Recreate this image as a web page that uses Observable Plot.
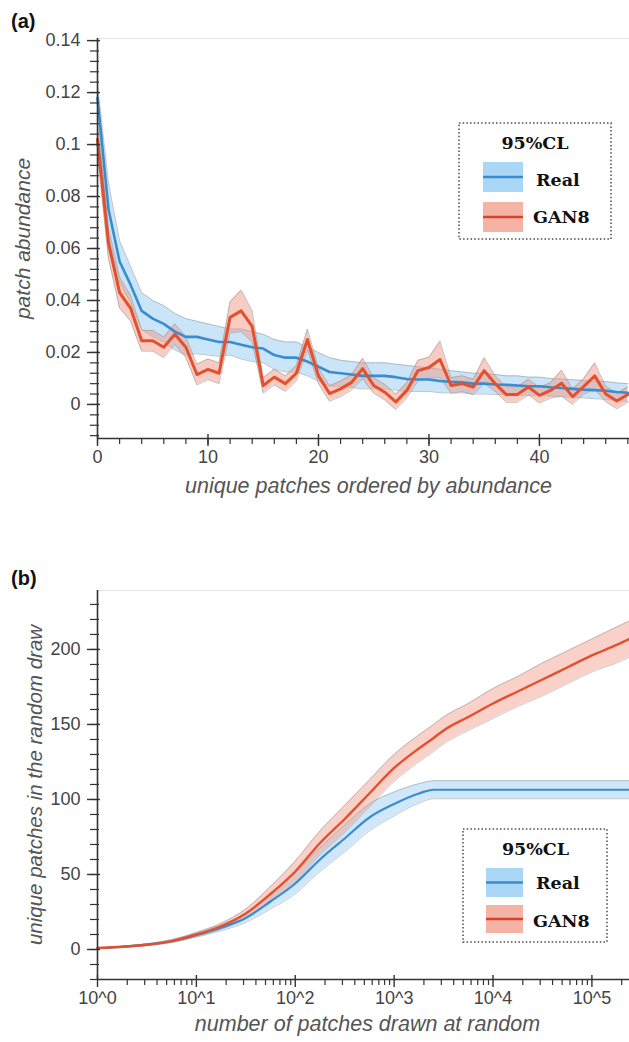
<!DOCTYPE html>
<html>
<head>
<meta charset="utf-8">
<script src="https://cdn.jsdelivr.net/npm/d3@7"></script>
<script src="https://cdn.jsdelivr.net/npm/@observablehq/plot@0.6"></script>
<style>
  body { margin: 0; background: #fff; }
  #page { position: relative; width: 629px; height: 1042px; overflow: hidden; font-family: "Liberation Sans", Arial, sans-serif; }
  .panel { position: absolute; left: 0; }
  .tag { position: absolute; font-weight: bold; font-size: 20px; line-height: 24px; color: #111; font-family: "Liberation Sans", Arial, sans-serif; }
  .legend { position: absolute; }
  .legend text { font-family: "DejaVu Serif", "Liberation Serif", serif; font-weight: bold; font-size: 17.5px; fill: #111; }
</style>
</head>
<body>
<div id="page">
  <div class="tag" style="left:11px;top:9px;">(a)</div>
  <div class="tag" style="left:11px;top:566px;">(b)</div>
  <div id="panelA" class="panel" style="top:0px;"></div>
  <div id="panelB" class="panel" style="top:520px;"></div>
  <svg class="legend" style="left:458px;top:122px;" width="154" height="118">
    <rect x="1" y="1" width="152" height="116" fill="#fff" stroke="#777" stroke-width="2" stroke-dasharray="1.5,2.2"></rect>
    <text x="77" y="27" text-anchor="middle" id="legA0"></text>
    <rect x="25" y="40" width="40" height="30" fill="#aad7f6"></rect>
    <line x1="25" x2="65" y1="55" y2="55" stroke="#3a8ccf" stroke-width="2.5"></line>
    <text x="78" y="64" id="legA1"></text>
    <rect x="25" y="80" width="40" height="30" fill="#f5b3a5"></rect>
    <line x1="25" x2="65" y1="95" y2="95" stroke="#d9432c" stroke-width="2.5"></line>
    <text x="75" y="101" id="legA2"></text>
  </svg>
  <svg class="legend" style="left:462px;top:828px;" width="146" height="115">
    <rect x="1" y="1" width="144" height="113" fill="#fff" stroke="#777" stroke-width="2" stroke-dasharray="1.5,2.2"></rect>
    <text x="73.5" y="27" text-anchor="middle" id="legB0"></text>
    <rect x="24" y="40" width="37" height="29" fill="#aad7f6"></rect>
    <line x1="24" x2="61" y1="54.5" y2="54.5" stroke="#3a8ccf" stroke-width="2.5"></line>
    <text x="74" y="61" id="legB1"></text>
    <rect x="24" y="77" width="37" height="28" fill="#f5b3a5"></rect>
    <line x1="24" x2="61" y1="91" y2="91" stroke="#d9432c" stroke-width="2.5"></line>
    <text x="71" y="99" id="legB2"></text>
  </svg>
</div>
<script>
// ---------- Legend texts ----------
const legendTitle = "95%CL";
const seriesNames = ["Real", "GAN8"];

// ---------- Panel (a) data: patch abundance vs rank ----------
const realMeanA = [0.118,0.075,0.055,0.046,0.036,0.033,0.031,0.028,0.026,0.026,0.025,0.024,0.024,0.023,0.022,0.0215,0.019,0.018,0.018,0.0165,0.0145,0.0125,0.012,0.0115,0.011,0.011,0.011,0.0105,0.0098,0.0096,0.0096,0.009,0.0087,0.0085,0.008,0.008,0.0077,0.0076,0.0073,0.007,0.007,0.0066,0.0063,0.006,0.0057,0.0055,0.0053,0.0048,0.0045];
const realHiA = [0.123,0.085,0.063,0.053,0.043,0.04,0.038,0.035,0.033,0.032,0.031,0.03,0.029,0.029,0.028,0.027,0.025,0.024,0.024,0.022,0.02,0.018,0.017,0.0165,0.016,0.016,0.016,0.0155,0.015,0.0145,0.014,0.0135,0.013,0.0125,0.012,0.012,0.0115,0.011,0.011,0.0105,0.0105,0.01,0.0098,0.0095,0.0092,0.009,0.0088,0.0083,0.008];
const realLoA = [0.113,0.065,0.047,0.039,0.029,0.026,0.024,0.021,0.019,0.0195,0.019,0.0185,0.019,0.0175,0.0165,0.016,0.0135,0.0125,0.0125,0.011,0.009,0.007,0.007,0.0065,0.006,0.006,0.006,0.0055,0.005,0.005,0.005,0.0045,0.0044,0.0045,0.004,0.004,0.0038,0.0038,0.0035,0.0035,0.0035,0.0032,0.003,0.0028,0.0025,0.0022,0.002,0.0015,0.0012];
const ganMeanA = [0.102,0.062,0.043,0.037,0.0245,0.0245,0.022,0.027,0.022,0.0115,0.0135,0.012,0.0335,0.036,0.030,0.0073,0.0105,0.008,0.012,0.025,0.011,0.0042,0.006,0.0085,0.0138,0.0073,0.0047,0.001,0.0054,0.013,0.0142,0.0173,0.0073,0.008,0.0067,0.013,0.008,0.0038,0.0038,0.0067,0.0035,0.0054,0.0082,0.003,0.0069,0.011,0.004,0.0013,0.0038];
const ganLoA = [0.096,0.056,0.037,0.032,0.0205,0.0205,0.018,0.023,0.018,0.0075,0.0095,0.008,0.0275,0.028,0.024,0.0043,0.0075,0.005,0.009,0.021,0.008,0.0012,0.003,0.0055,0.0098,0.0043,0.0017,-0.002,0.0024,0.009,0.0102,0.0103,0.0043,0.005,0.0037,0.008,0.005,0.0008,0.0008,0.0037,0.0005,0.0024,0.0032,0.0,0.0039,0.006,0.001,-0.0017,0.0008];
const ganHiA = [0.108,0.068,0.049,0.042,0.0285,0.0285,0.026,0.031,0.026,0.0155,0.0175,0.016,0.0395,0.044,0.036,0.0103,0.0135,0.011,0.015,0.029,0.014,0.0072,0.009,0.0115,0.0178,0.0103,0.0077,0.004,0.0084,0.017,0.0182,0.0243,0.0103,0.011,0.0097,0.018,0.011,0.0068,0.0068,0.0097,0.0065,0.0084,0.0132,0.006,0.0099,0.016,0.007,0.0043,0.0068];

const xDomainA = [0, 48.15];
const yDomainA = [-0.0131, 0.1408];
const xMajorA = [0, 10, 20, 30, 40];
const xMajorLabelsA = ["0", "10", "20", "30", "40"];
const xMinorA = d3.range(0, 49, 2);
const yMajorA = [0, 0.02, 0.04, 0.06, 0.08, 0.1, 0.12, 0.14];
const yMajorLabelsA = ["0", "0.02", "0.04", "0.06", "0.08", "0.1", "0.12", "0.14"];
const yMinorA = d3.range(-12, 141, 4).map(v => v / 1000);
const xLabelA = "unique patches ordered by abundance";
const yLabelA = "patch abundance";

// ---------- Panel (b) data: unique patches vs number drawn ----------
const drawsB = [1, 1.78, 3.16, 5.62, 10, 17.8, 31.6, 56.2, 100, 178, 316, 562, 1000, 1778, 2512, 3162, 5623, 10000, 17783, 31623, 56234, 100000, 177828, 240000];
const realMeanB = [1, 1.8, 3.2, 5.5, 9.5, 14.5, 21, 32, 44, 60, 74, 88, 97, 104, 106.5, 106.5, 106.5, 106.5, 106.5, 106.5, 106.5, 106.5, 106.5, 106.5];
const realLoB = [1, 1.5, 2.6, 4.6, 8.2, 12.5, 18, 27, 37, 52, 65, 79, 89, 97.5, 100.5, 100.5, 100.5, 100.5, 100.5, 100.5, 100.5, 100.5, 100.5, 100.5];
const realHiB = [1, 2.1, 3.8, 6.4, 10.8, 16.5, 24, 37, 51, 68, 83, 97, 105, 110.5, 112.5, 112.5, 112.5, 112.5, 112.5, 112.5, 112.5, 112.5, 112.5, 112.5];
const ganMeanB = [1, 1.8, 3.2, 5.6, 10, 15.5, 24, 37, 52, 71, 87, 104, 121, 134, 141, 146, 155, 164, 172, 180, 188, 196, 203, 207];
const ganLoB = [1, 1.5, 2.6, 4.7, 8.6, 13.5, 21, 32, 45, 63, 78, 95, 112, 125, 132, 137, 146, 154, 162, 169, 177, 185, 191, 195];
const ganHiB = [1, 2.1, 3.8, 6.5, 11.4, 17.5, 27, 42, 59, 79, 96, 113, 130, 143, 150, 155, 164, 174, 182, 191, 199, 207, 215, 219];

const xDomainB = [1, 240000];
const yDomainB = [-20, 239.3];
const xMajorB = [1, 10, 100, 1000, 10000, 100000];
const xMajorLabelsB = ["10^0", "10^1", "10^2", "10^3", "10^4", "10^5"];
const xMinorB = [];
for (const p of [1, 10, 100, 1000, 10000, 100000]) for (let m = 2; m <= 9; m++) if (p * m <= 240000) xMinorB.push(p * m);
const yMajorB = [0, 50, 100, 150, 200];
const yMajorLabelsB = ["0", "50", "100", "150", "200"];
const yMinorB = d3.range(-20, 231, 10);
const xLabelB = "number of patches drawn at random";
const yLabelB = "unique patches in the random draw";

// ---------- Colours ----------
const blueLine = "#3a8ccf", redLine = "#e2502e";
const blueFill = "#9fd0f2", redFill = "#f29a85";
const edge = "#8d979e";
const tickFont = 18, titleFont = 21.5;

// ---------- Build tables ----------
const dataA = realMeanA.map((v, i) => ({
  rank: i, real: v, realLo: realLoA[i], realHi: realHiA[i],
  gan: ganMeanA[i], ganLo: ganLoA[i], ganHi: ganHiA[i]
}));
const dataB = drawsB.map((d, i) => ({
  n: d, real: realMeanB[i], realLo: realLoB[i], realHi: realHiB[i],
  gan: ganMeanB[i], ganLo: ganLoB[i], ganHi: ganHiB[i]
}));

const blank = () => "";
function lookup(ticks, labels) { const m = new Map(ticks.map((t, i) => [t, labels[i]])); return d => m.get(d); }

function axes(xDom, yDom, xMajor, xMajorLabels, xMinor, yMajor, yMajorLabels, yMinor) {
  const ax = "#333";
  return [
    Plot.ruleY([yDom[1]], {stroke: "#e4e4e4", strokeWidth: 1.2}),
    Plot.ruleX([xDom[0]], {stroke: ax, strokeWidth: 1.6}),
    Plot.ruleY([yDom[0]], {stroke: ax, strokeWidth: 1.6}),
    Plot.axisY({ticks: yMinor, tickSize: 7, tickFormat: blank, label: null, stroke: ax, strokeWidth: 1.2}),
    Plot.axisY({ticks: yMinor, tickSize: 2, dx: 2, tickFormat: blank, label: null, stroke: ax, strokeWidth: 1.2}),
    Plot.axisY({ticks: yMajor, tickSize: 10, tickFormat: blank, label: null, stroke: ax, strokeWidth: 1.4}),
    Plot.axisY({ticks: yMajor, tickSize: 3, dx: 3, tickFormat: blank, label: null, stroke: ax, strokeWidth: 1.4}),
    Plot.axisX({ticks: xMinor, tickSize: 6, tickFormat: blank, label: null, stroke: ax, strokeWidth: 1.2}),
    Plot.axisX({ticks: xMajor, tickSize: 8, tickFormat: blank, label: null, stroke: ax, strokeWidth: 1.4}),
    Plot.axisX({ticks: xMajor, tickSize: 4, dy: -4, tickFormat: blank, label: null, stroke: ax, strokeWidth: 1.4}),
    Plot.text(yMajor, {y: d => d, text: lookup(yMajor, yMajorLabels), frameAnchor: "left", textAnchor: "end", dx: -17, fontSize: tickFont, fill: "#444"}),
    Plot.text(xMajor, {x: d => d, text: lookup(xMajor, xMajorLabels), frameAnchor: "bottom", dy: 24, fontSize: tickFont, fill: "#444"})
  ];
}

const styleCommon = {fontFamily: "'Liberation Sans', Arial, sans-serif", fontSize: "18px", color: "#444", background: "transparent", overflow: "visible"};

const plotA = Plot.plot({
  width: 629, height: 515,
  marginTop: 38, marginBottom: 77, marginLeft: 97, marginRight: 0,
  style: styleCommon,
  x: {domain: xDomainA},
  y: {domain: yDomainA},
  marks: [
    Plot.areaY(dataA, {x: "rank", y1: "realLo", y2: "realHi", fill: blueFill, fillOpacity: 0.55}),
    Plot.lineY(dataA, {x: "rank", y: "realLo", stroke: edge, strokeOpacity: 0.55, strokeWidth: 1}),
    Plot.lineY(dataA, {x: "rank", y: "realHi", stroke: edge, strokeOpacity: 0.55, strokeWidth: 1}),
    Plot.areaY(dataA, {x: "rank", y1: "ganLo", y2: "ganHi", fill: redFill, fillOpacity: 0.5}),
    Plot.lineY(dataA, {x: "rank", y: "ganLo", stroke: edge, strokeOpacity: 0.55, strokeWidth: 1}),
    Plot.lineY(dataA, {x: "rank", y: "ganHi", stroke: edge, strokeOpacity: 0.55, strokeWidth: 1}),
    Plot.lineY(dataA, {x: "rank", y: "real", stroke: blueLine, strokeWidth: 2.6}),
    Plot.lineY(dataA, {x: "rank", y: "gan", stroke: redLine, strokeWidth: 3}),
    ...axes(xDomainA, yDomainA, xMajorA, xMajorLabelsA, xMinorA, yMajorA, yMajorLabelsA, yMinorA),
    Plot.text([yLabelA], {text: d => d, frameAnchor: "left", textAnchor: "middle", dx: -74, rotate: -90, fontStyle: "italic", fontSize: 21, fill: "#555"}),
    Plot.text([xLabelA], {text: d => d, frameAnchor: "bottom", dx: 5, dy: 54, fontStyle: "italic", fontSize: titleFont, fill: "#555"})
  ]
});
document.getElementById("panelA").appendChild(plotA);

const smooth = "monotone-x";
const plotB = Plot.plot({
  width: 629, height: 522,
  marginTop: 70, marginBottom: 63, marginLeft: 97, marginRight: 0,
  style: styleCommon,
  x: {type: "log", domain: xDomainB},
  y: {domain: yDomainB},
  marks: [
    Plot.areaY(dataB, {x: "n", y1: "realLo", y2: "realHi", fill: blueFill, fillOpacity: 0.5, curve: smooth}),
    Plot.lineY(dataB, {x: "n", y: "realLo", stroke: edge, strokeOpacity: 0.5, strokeWidth: 1, curve: smooth}),
    Plot.lineY(dataB, {x: "n", y: "realHi", stroke: edge, strokeOpacity: 0.5, strokeWidth: 1, curve: smooth}),
    Plot.areaY(dataB, {x: "n", y1: "ganLo", y2: "ganHi", fill: redFill, fillOpacity: 0.45, curve: smooth}),
    Plot.lineY(dataB, {x: "n", y: "ganLo", stroke: edge, strokeOpacity: 0.5, strokeWidth: 1, curve: smooth}),
    Plot.lineY(dataB, {x: "n", y: "ganHi", stroke: edge, strokeOpacity: 0.5, strokeWidth: 1, curve: smooth}),
    Plot.lineY(dataB, {x: "n", y: "real", stroke: blueLine, strokeWidth: 2.2, curve: smooth}),
    Plot.lineY(dataB, {x: "n", y: "gan", stroke: redLine, strokeWidth: 2.4, curve: smooth}),
    ...axes(xDomainB, yDomainB, xMajorB, xMajorLabelsB, xMinorB, yMajorB, yMajorLabelsB, yMinorB),
    Plot.text([yLabelB], {text: d => d, frameAnchor: "left", textAnchor: "middle", dx: -62, rotate: -90, fontStyle: "italic", fontSize: 20.5, fill: "#555"}),
    Plot.text([xLabelB], {text: d => d, frameAnchor: "bottom", dx: 4, dy: 51, fontStyle: "italic", fontSize: titleFont, fill: "#555"})
  ]
});
document.getElementById("panelB").appendChild(plotB);

for (const p of ["A", "B"]) {
  document.getElementById("leg" + p + "0").textContent = legendTitle;
  document.getElementById("leg" + p + "1").textContent = seriesNames[0];
  document.getElementById("leg" + p + "2").textContent = seriesNames[1];
}
</script>
</body>
</html>
